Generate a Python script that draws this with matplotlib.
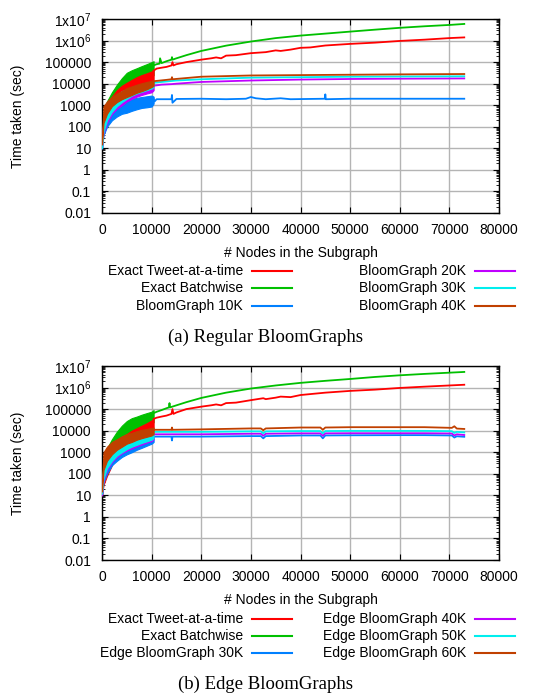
import numpy as np
import matplotlib.pyplot as plt
from matplotlib.lines import Line2D
from matplotlib.ticker import LogLocator, NullFormatter

plt.rcParams['font.family'] = ['Liberation Sans', 'DejaVu Sans']
plt.rcParams['mathtext.default'] = 'regular'

# old gnuplot line colours
C_RED = '#ff0000'
C_GREEN = '#00c000'
C_BLUE = '#0080ff'
C_MAGENTA = '#c000ff'
C_CYAN = '#00eeee'
C_BROWN = '#c04000'

x_ticks = [0, 10000, 20000, 30000, 40000, 50000, 60000, 70000, 80000]
y_ticks = [0.01, 0.1, 1, 10, 100, 1000, 1e4, 1e5, 1e6, 1e7]
y_tick_labels = ['0.01', '0.1', '1', '10', '100', '1000', '10000', '100000',
                 '1x10$^{6}$', '1x10$^{7}$']

labels_a = ['Exact Tweet-at-a-time', 'Exact Batchwise', 'BloomGraph 10K',
            'BloomGraph 20K', 'BloomGraph 30K', 'BloomGraph 40K']
labels_b = ['Exact Tweet-at-a-time', 'Exact Batchwise', 'Edge BloomGraph 30K',
            'Edge BloomGraph 40K', 'Edge BloomGraph 50K', 'Edge BloomGraph 60K']

# noisy start (0 - 10400 nodes): lower / upper envelope of each series
band_x = [0, 300, 1000, 2000, 3000, 4000, 5000, 6000, 7000, 8000, 9000, 10000, 10400]

# ---- (a) Regular BloomGraphs ----
a_red_lo = [20, 60, 150, 700, 1500, 2500, 3500, 5000, 6000, 7500, 9000, 10000, 12000]
a_red_hi = [30, 300, 1000, 2500, 5000, 8000, 11000, 15000, 20000, 25000, 30000, 37000, 40000]
a_red_x = [10400, 11000, 12000, 13000, 14000, 14200, 14400, 15000, 17000, 20000, 22000,
           23000, 24000, 25000, 27000, 30000, 33000, 35000, 36000, 38000, 40000, 42000,
           45000, 50000, 55000, 60000, 65000, 70000, 73000]
a_red_y = [40000, 50000, 55000, 60000, 70000, 100000, 70000, 80000, 100000, 130000, 150000,
           165000, 150000, 200000, 210000, 260000, 290000, 350000, 330000, 380000, 460000,
           480000, 590000, 700000, 800000, 960000, 1100000, 1300000, 1400000]

a_green_lo = [15, 80, 300, 1200, 2500, 4000, 6000, 8000, 10000, 13000, 16000, 20000, 25000]
a_green_hi = [25, 400, 1500, 4000, 9000, 18000, 32000, 42000, 52000, 65000, 80000, 100000, 110000]
a_green_x = [10400, 11000, 11600, 11700, 12000, 13000, 14000, 14100, 14200, 15000, 17000,
             20000, 25000, 30000, 35000, 40000, 45000, 50000, 55000, 60000, 65000, 70000, 73000]
a_green_y = [70000, 80000, 85000, 150000, 90000, 110000, 130000, 170000, 130000, 150000, 210000,
             330000, 580000, 900000, 1300000, 1700000, 2100000, 2600000, 3200000, 3900000,
             4600000, 5300000, 5900000]

a_blue_lo = [10, 40, 100, 200, 300, 400, 450, 550, 650, 750, 800, 870, 1200]
a_blue_hi = [20, 150, 500, 1000, 1300, 1600, 1800, 2000, 2200, 2400, 2600, 2800, 2500]
a_blue_x = [10400, 10600, 11000, 14000, 14100, 14200, 15000, 20000, 25000, 29000, 30000,
            31000, 33000, 36000, 38000, 44900, 45000, 45100, 50000, 60000, 73000]
a_blue_y = [2000, 1500, 1900, 1900, 3000, 1300, 1950, 2000, 1900, 2000, 2400, 2100, 1900,
            2100, 1900, 2000, 3200, 1900, 2000, 2000, 2000]

a_magenta_lo = [10, 50, 150, 400, 700, 1000, 1500, 2000, 2500, 3000, 3500, 4000, 5000]
a_magenta_hi = [20, 200, 700, 1500, 2500, 3500, 4500, 5500, 6500, 7500, 8500, 9000, 9000]
a_magenta_x = [10400, 12000, 14000, 15000, 20000, 30000, 40000, 50000, 60000, 73000]
a_magenta_y = [8000, 9000, 9500, 10000, 12000, 14000, 15500, 16500, 17000, 17500]

a_cyan_lo = [10, 60, 200, 500, 900, 1400, 2000, 2800, 3500, 4200, 5000, 6000, 7000]
a_cyan_hi = [20, 250, 900, 2000, 3000, 4500, 5500, 6500, 7500, 8500, 9500, 10500, 11000]
a_cyan_x = [10400, 15000, 20000, 30000, 40000, 50000, 60000, 73000]
a_cyan_y = [11000, 14000, 16000, 19000, 20000, 21000, 21500, 22000]

a_brown_lo = [15, 150, 400, 900, 1400, 1900, 2400, 3000, 3800, 4500, 5500, 7000, 8000]
a_brown_hi = [30, 900, 1500, 2500, 3500, 4500, 6300, 7500, 9000, 10500, 12000, 13500, 14000]
a_brown_x = [10400, 13000, 14000, 14100, 14200, 20000, 30000, 40000, 50000, 60000, 73000]
a_brown_y = [13000, 15000, 16000, 20000, 16000, 21000, 24000, 25000, 26000, 27000, 28000]

# ---- (b) Edge BloomGraphs ----
b_red_lo = [10, 30, 80, 250, 600, 1200, 2000, 3000, 4000, 5000, 6000, 7000, 9000]
b_red_hi = [20, 150, 500, 1500, 3000, 5000, 7000, 10000, 13000, 17000, 22000, 30000, 35000]
b_red_x = [10400, 11000, 12000, 13000, 14000, 14200, 14400, 15000, 17000, 20000, 22000,
           23000, 24000, 25000, 27000, 30000, 32500, 33000, 35000, 36000, 38000, 40000,
           45000, 50000, 55000, 60000, 65000, 70000, 73000]
b_red_y = [35000, 40000, 45000, 50000, 60000, 100000, 60000, 70000, 100000, 130000, 150000,
           165000, 150000, 190000, 200000, 260000, 320000, 290000, 340000, 380000, 360000,
           450000, 580000, 700000, 800000, 960000, 1100000, 1250000, 1350000]

b_green_lo = [15, 80, 300, 1200, 2500, 4000, 6000, 8000, 10000, 13000, 16000, 20000, 25000]
b_green_hi = [25, 400, 1500, 4000, 9000, 17000, 28000, 38000, 45000, 55000, 65000, 76000, 90000]
b_green_x = [10400, 11000, 12000, 13000, 13500, 13600, 13700, 15000, 17000, 20000, 25000,
             30000, 35000, 40000, 45000, 50000, 55000, 60000, 65000, 70000, 73000]
b_green_y = [65000, 75000, 90000, 110000, 120000, 190000, 120000, 150000, 210000, 330000,
             580000, 900000, 1250000, 1650000, 2050000, 2500000, 3100000, 3700000, 4300000,
             4900000, 5300000]

b_blue_lo = [10, 40, 100, 250, 400, 600, 800, 1000, 1300, 1600, 2000, 2500, 3000]
b_blue_hi = [20, 200, 500, 1200, 1800, 2500, 3100, 3500, 4000, 4500, 5000, 5500, 6000]
b_blue_x = [10400, 14000, 14100, 14200, 20000, 30000, 32000, 32500, 33000, 40000, 44000,
            44500, 45000, 50000, 60000, 65000, 70500, 71000, 71500, 73000]
b_blue_y = [5300, 5300, 3500, 5300, 5300, 5600, 5600, 4400, 5600, 6000, 6000, 4400, 6000,
            6100, 6200, 6200, 6000, 4800, 5500, 5200]

b_magenta_lo = [10, 50, 150, 350, 600, 900, 1200, 1500, 1900, 2300, 2800, 3300, 4000]
b_magenta_hi = [25, 250, 700, 1500, 2200, 3000, 3600, 4200, 4800, 5400, 6000, 6500, 7000]
b_magenta_x = [10400, 20000, 30000, 32000, 32500, 33000, 40000, 44000, 44500, 45000, 50000,
               60000, 65000, 70500, 71000, 71500, 73000]
b_magenta_y = [6800, 6800, 7200, 7200, 5800, 7200, 7500, 7500, 5800, 7500, 7600, 7600, 7600,
               7400, 6000, 6800, 6300]

b_cyan_lo = [12, 60, 180, 400, 700, 1000, 1400, 1800, 2200, 2700, 3200, 3800, 4500]
b_cyan_hi = [30, 300, 800, 1800, 2700, 3500, 4300, 5000, 5700, 6400, 7200, 8000, 9000]
b_cyan_x = [10400, 20000, 30000, 32000, 32500, 33000, 40000, 44000, 44500, 45000, 50000,
            60000, 65000, 70500, 71000, 71500, 73000]
b_cyan_y = [8800, 8800, 9300, 9300, 7500, 9300, 9600, 9600, 7500, 9600, 9800, 9800, 9800,
            9500, 7800, 8800, 8300]

b_brown_lo = [15, 150, 400, 800, 1300, 1800, 2500, 3000, 3800, 4500, 5200, 6000, 7000]
b_brown_hi = [40, 1000, 1800, 3000, 4000, 5500, 7000, 8000, 9500, 11000, 12000, 13500, 14000]
b_brown_x = [10400, 14000, 14100, 14200, 20000, 30000, 32000, 32500, 33000, 40000, 44000,
             44500, 45000, 50000, 60000, 65000, 70500, 71000, 71500, 73000]
b_brown_y = [11000, 11000, 14000, 11000, 11500, 12700, 12700, 10500, 12700, 14000, 14000,
             11000, 14000, 14500, 14500, 14500, 13500, 16000, 12500, 12000]

colors = [C_RED, C_GREEN, C_BLUE, C_MAGENTA, C_CYAN, C_BROWN]
zorders = [4, 3, 5, 6, 7, 8]

series_a = [(a_red_lo, a_red_hi, a_red_x, a_red_y),
            (a_green_lo, a_green_hi, a_green_x, a_green_y),
            (a_blue_lo, a_blue_hi, a_blue_x, a_blue_y),
            (a_magenta_lo, a_magenta_hi, a_magenta_x, a_magenta_y),
            (a_cyan_lo, a_cyan_hi, a_cyan_x, a_cyan_y),
            (a_brown_lo, a_brown_hi, a_brown_x, a_brown_y)]
series_b = [(b_red_lo, b_red_hi, b_red_x, b_red_y),
            (b_green_lo, b_green_hi, b_green_x, b_green_y),
            (b_blue_lo, b_blue_hi, b_blue_x, b_blue_y),
            (b_magenta_lo, b_magenta_hi, b_magenta_x, b_magenta_y),
            (b_cyan_lo, b_cyan_hi, b_cyan_x, b_cyan_y),
            (b_brown_lo, b_brown_hi, b_brown_x, b_brown_y)]

W, H = 537, 694
fig = plt.figure(figsize=(W / 100, H / 100), dpi=100)


def px(x, y):
    # pixel position -> figure fraction
    return x / W, 1 - y / H


def draw_panel(top, bottom, series, labels, caption, leg_rows, xlab_y, cap_y):
    left, right = 102, 499
    ax = fig.add_axes([left / W, 1 - bottom / H, (right - left) / W, (bottom - top) / H])
    for (lo, hi, lx, ly), col, z in zip(series, colors, zorders):
        ax.fill_between(band_x, lo, hi, color=col, lw=0.8, zorder=z)
        ax.plot(lx, ly, color=col, lw=1.3, zorder=z)
    ax.set_yscale('log')
    ax.set_xlim(0, 80000)
    ax.set_ylim(0.01, 1e7)
    ax.set_xticks(x_ticks)
    ax.set_xticklabels([str(t) for t in x_ticks])
    ax.set_yticks(y_ticks)
    ax.set_yticklabels(y_tick_labels)
    ax.yaxis.set_minor_locator(LogLocator(base=10, subs=(2, 3, 4, 5, 6, 7, 8, 9), numticks=20))
    ax.yaxis.set_minor_formatter(NullFormatter())
    ax.tick_params(axis='both', which='major', direction='in', length=4, width=0.8,
                   labelsize=10, top=True, right=True, color='black')
    ax.tick_params(axis='y', which='minor', direction='in', length=2, width=0.6,
                   left=True, right=True)
    ax.tick_params(axis='x', pad=7)
    ax.tick_params(axis='y', pad=8)
    ax.grid(True, which='major', color='#b4b4b4', lw=1.0, zorder=0)
    ax.set_axisbelow(True)
    for sp in ax.spines.values():
        sp.set_linewidth(1.0)

    fig.text(*px(18, (top + bottom) / 2), 'Time taken (sec)', rotation=90,
             ha='center', va='center', fontsize=10)
    fig.text(*px((left + right) / 2, xlab_y), '# Nodes in the Subgraph',
             ha='center', va='center', fontsize=10)

    # gnuplot style key: text right aligned, sample line on its right
    for i, (lab, col) in enumerate(zip(labels, colors)):
        c, r = divmod(i, 3)
        tx = [243, 466][c]
        ty = leg_rows[r]
        fig.text(*px(tx, ty), lab, ha='right', va='center', fontsize=10)
        x0, y0 = px(tx + 9, ty)
        x1, _ = px(tx + 49, ty)
        fig.add_artist(Line2D([x0, x1], [y0, y0], color=col, lw=1.5))

    fig.text(*px(266, cap_y), caption, ha='center', va='center', fontsize=13.5,
             family=['Liberation Serif', 'DejaVu Serif'])
    return ax


draw_panel(19, 213, series_a, labels_a, '(a) Regular BloomGraphs',
           [271, 288, 306], 253, 337)
draw_panel(366, 560, series_b, labels_b, '(b) Edge BloomGraphs',
           [619, 636, 653], 600, 684)

fig.savefig('out.png', dpi=100)
